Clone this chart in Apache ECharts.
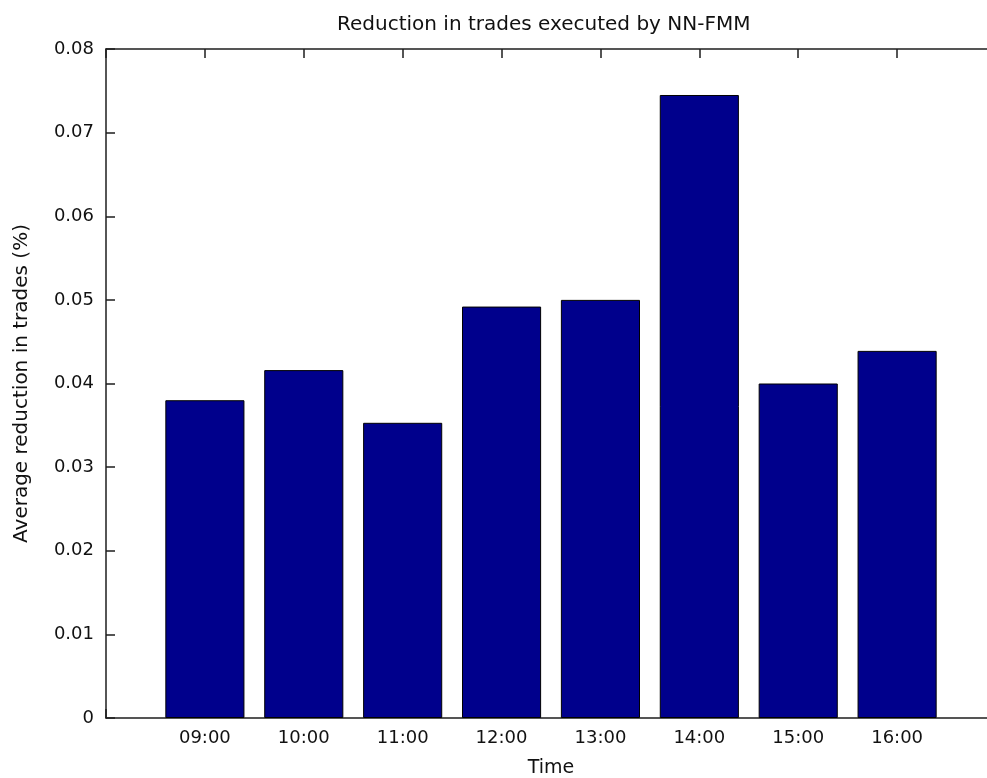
<!DOCTYPE html>
<html>
<head>
<meta charset="utf-8">
<script src="https://cdn.jsdelivr.net/npm/echarts@6/dist/echarts.min.js"></script>
<style>
  html, body { margin: 0; padding: 0; background: #ffffff; }
  #chart { width: 987px; height: 778px; }
</style>
</head>
<body>
<div id="chart"></div>
<script>
// Hourly categories and the average reduction in trades for each hour
const hours = ['09:00', '10:00', '11:00', '12:00', '13:00', '14:00', '15:00', '16:00'];
const reduction = [0.0380, 0.0416, 0.0353, 0.0492, 0.0500, 0.0745, 0.0400, 0.0439];
const yTickLabels = ['0', '0.01', '0.02', '0.03', '0.04', '0.05', '0.06', '0.07', '0.08'];

const FONT = '"DejaVu Sans", "Liberation Sans", Arial, sans-serif';
const AXIS_COLOR = '#1e1e1e';
const TEXT_COLOR = '#111111';
const GRID_LEFT = 106;
const GRID_RIGHT = -9;           // x runs from 0 to 9, the right edge falls past the canvas
const X_MAX = hours.length + 1;
const plotWidth = 987 - GRID_LEFT - GRID_RIGHT;
const barPx = plotWidth / X_MAX * 0.8;

const chart = echarts.init(document.getElementById('chart'), null, { renderer: 'canvas' });

const xBase = {
  type: 'value',
  min: 0,
  max: X_MAX,
  interval: 1,
  splitLine: { show: false },
  axisLine: { show: true, onZero: false, lineStyle: { color: AXIS_COLOR, width: 1.5 } },
  axisTick: { show: true, inside: true, length: 9, lineStyle: { color: AXIS_COLOR, width: 1.5 } }
};

const yBase = {
  type: 'value',
  min: 0,
  max: 0.08,
  interval: 0.01,
  splitLine: { show: false },
  axisLine: { show: true, onZero: false, lineStyle: { color: AXIS_COLOR, width: 1.5 } },
  axisTick: { show: true, inside: true, length: 9, lineStyle: { color: AXIS_COLOR, width: 1.5 } }
};

chart.setOption({
  backgroundColor: '#ffffff',
  animation: false,
  title: {
    text: 'Reduction in trades executed by NN-FMM',
    left: 332,
    top: 10,
    textStyle: { fontFamily: FONT, fontSize: 20, fontWeight: 'normal', color: TEXT_COLOR }
  },
  grid: {
    left: GRID_LEFT,
    top: 49,
    right: GRID_RIGHT,
    bottom: 60,
    containLabel: false,
    outerBoundsMode: 'none'
  },
  xAxis: [
    Object.assign({}, xBase, {
      position: 'bottom',
      name: 'Time',
      nameLocation: 'middle',
      nameGap: 41,
      nameTextStyle: { fontFamily: FONT, fontSize: 19, color: TEXT_COLOR },
      axisLabel: {
        show: true,
        margin: 11,
        fontFamily: FONT,
        fontSize: 18,
        color: TEXT_COLOR,
        formatter: function (v) {
          const i = Math.round(v) - 1;
          return (i >= 0 && i < hours.length) ? hours[i] : '';
        }
      }
    }),
    Object.assign({}, xBase, {
      position: 'top',
      axisLabel: { show: false }
    })
  ],
  yAxis: [
    Object.assign({}, yBase, {
      position: 'left',
      name: 'Average reduction in trades (%)',
      nameLocation: 'middle',
      nameGap: 74,
      nameRotate: 90,
      nameTextStyle: { fontFamily: FONT, fontSize: 20, color: TEXT_COLOR },
      axisLabel: {
        show: true,
        margin: 12,
        fontFamily: FONT,
        fontSize: 18,
        color: TEXT_COLOR,
        formatter: function (v) {
          return yTickLabels[Math.round(v / 0.01)];
        }
      }
    }),
    Object.assign({}, yBase, {
      position: 'right',
      axisLabel: { show: false }
    })
  ],
  series: [
    {
      type: 'bar',
      xAxisIndex: 0,
      yAxisIndex: 0,
      barWidth: barPx,
      data: hours.map(function (h, i) { return [i + 1, reduction[i]]; }),
      itemStyle: { color: '#00008c', borderColor: '#000000', borderWidth: 1 }
    }
  ]
});
</script>
</body>
</html>
